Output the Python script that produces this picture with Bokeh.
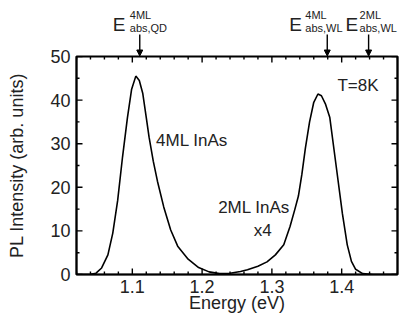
import numpy as np
from bokeh.plotting import figure
from bokeh.layouts import column
from bokeh.models import (Range1d, LinearAxis, Label, Arrow, NormalHead,
                          SingleIntervalTicker, CustomJSTickFormatter)
from bokeh.embed import file_html
from bokeh.resources import INLINE

# PL spectrum (single trace: 4ML InAs QD peak and 2ML InAs WL peak x4)
energy = [1.020, 1.040, 1.048, 1.056, 1.065, 1.072, 1.079, 1.086, 1.093, 1.099,
          1.105, 1.110, 1.115, 1.120, 1.124, 1.130, 1.136, 1.145, 1.155, 1.165,
          1.180, 1.195, 1.210, 1.225, 1.240, 1.255, 1.265, 1.280, 1.293, 1.305,
          1.317, 1.326, 1.333, 1.338, 1.343, 1.348, 1.354, 1.360, 1.366, 1.371,
          1.377, 1.383, 1.392, 1.401, 1.408, 1.414, 1.420, 1.430, 1.445, 1.480]
intensity = [0.0, 0.05, 0.3, 1.5, 4.5, 9.5, 17.0, 27.0, 36.0, 42.5,
             45.5, 44.5, 41.5, 36.0, 31.5, 26.0, 21.4, 15.5, 10.2, 6.5,
             3.5, 1.6, 0.6, 0.2, 0.3, 0.7, 1.1, 1.9, 2.9, 4.5,
             6.8, 11.0, 15.0, 18.0, 23.0, 29.0, 35.0, 39.5, 41.4, 41.0,
             39.0, 36.0, 25.0, 14.0, 6.8, 3.0, 1.2, 0.2, 0.0, 0.0]

# absorption energies marked by arrows above the frame
abs_energy = [1.1115, 1.3827, 1.4425]
abs_sup = ["4ML", "4ML", "2ML"]
abs_sub = ["abs,QD", "abs,WL", "abs,WL"]

# ticks
x_ticks = [1.1, 1.2, 1.3, 1.4]
y_ticks = [0, 10, 20, 30, 40, 50]
X0, X1 = 1.02, 1.48
Y0, Y1 = 0, 50
x_minor_step = 0.02
y_minor_step = 5

FONT = "Liberation Sans"
TXT = "#222222"
LW = 1.4

W = 400
TOP_H = 56
OVERLAP = 11
MAIN_H = 315 - TOP_H + OVERLAP
LEFT, RIGHT = 76, 3

# ---------------- main plot ----------------
p = figure(width=W, height=MAIN_H, output_backend="svg", toolbar_location=None,
           x_range=Range1d(X0, X1), y_range=Range1d(Y0, Y1),
           min_border_left=LEFT, min_border_right=RIGHT, min_border_top=OVERLAP,
           min_border_bottom=39,
           background_fill_color=None, border_fill_color=None,
           styles={"margin-top": "-%dpx" % OVERLAP})
p.outline_line_color = "black"
p.outline_line_width = 2.2
p.grid.visible = False

p.line(energy, intensity, line_color="black", line_width=1.6)

# inward ticks on all four sides (half of each dash is clipped away by the frame)
x_minor = [v for v in np.round(np.arange(X0, X1 + 1e-9, x_minor_step), 3)
           if min(abs(v - t) for t in x_ticks) > 1e-6]
y_minor = [v for v in np.arange(Y0, Y1 + 1e-9, y_minor_step) if v not in y_ticks]
for xs, size in ((x_ticks, 12), (x_minor, 6)):
    for yy in (Y0, Y1):
        p.scatter(xs, [yy] * len(xs), marker="dash", size=size, angle=np.pi / 2,
                  line_color="black", line_width=LW)
for ys, size in ((y_ticks, 12), (y_minor, 6)):
    for xx in (X0, X1):
        p.scatter([xx] * len(ys), ys, marker="dash", size=size, angle=0,
                  line_color="black", line_width=LW)

def style(ax, labels=True):
    ax.axis_line_color = "black"
    ax.axis_line_width = LW
    ax.major_tick_in = 0
    ax.major_tick_out = 0
    ax.minor_tick_in = 0
    ax.minor_tick_out = 0
    ax.major_label_text_font = FONT
    ax.major_label_text_color = TXT
    ax.axis_label_text_font = FONT
    ax.axis_label_text_color = TXT
    ax.axis_label_text_font_style = "normal"
    if not labels:
        ax.formatter = CustomJSTickFormatter(code="return '';")
        ax.major_label_text_font_size = "0px"
        ax.major_label_standoff = 0

xb = p.xaxis[0]
yl = p.yaxis[0]
xb.ticker = SingleIntervalTicker(interval=0.1, num_minor_ticks=5)
yl.ticker = SingleIntervalTicker(interval=10, num_minor_ticks=2)
style(xb)
style(yl)
xb.major_label_text_font_size = "18px"
xb.axis_label = "Energy (eV)"
xb.axis_label_text_font_size = "18px"
xb.major_label_standoff = 5
xb.axis_label_standoff = -3
yl.major_label_text_font_size = "18px"
yl.axis_label = "PL Intensity (arb. units)"
yl.axis_label_text_font_size = "18px"
yl.major_label_standoff = 6
yl.axis_label_standoff = 20

yr = LinearAxis(ticker=SingleIntervalTicker(interval=10, num_minor_ticks=2))
style(yr, labels=False)
p.add_layout(yr, "right")

# in-plot annotations
p.add_layout(Label(x=1.134, y=30.7, text="4ML InAs", text_font=FONT, text_font_size="17px",
                   text_color=TXT, text_baseline="middle", text_align="left"))
p.add_layout(Label(x=1.223, y=15.3, text="2ML InAs", text_font=FONT, text_font_size="17px",
                   text_color=TXT, text_baseline="middle", text_align="left"))
p.add_layout(Label(x=1.2867, y=10.2, text="x4", text_font=FONT, text_font_size="17px",
                   text_color=TXT, text_baseline="middle", text_align="center"))
p.add_layout(Label(x=1.394, y=43.3, text="T=8K", text_font=FONT, text_font_size="17px",
                   text_color=TXT, text_baseline="middle", text_align="left"))

# ---------------- strip above the frame: absorption arrows ----------------
frame_w = W - LEFT - RIGHT
top_x1 = X1 + RIGHT * (X1 - X0) / frame_w   # same x scale, frame reaching the right edge
pt = figure(width=W, height=TOP_H, output_backend="svg", toolbar_location=None,
            x_range=Range1d(X0, top_x1), y_range=Range1d(0, TOP_H),
            min_border_left=LEFT, min_border_right=0, min_border_top=0, min_border_bottom=0,
            x_axis_location=None, y_axis_location=None,
            background_fill_color=None, border_fill_color=None)
pt.outline_line_color = None
pt.grid.visible = False

e_dx = [-27, -38, -23]
s_dx = [-10, -22, -9]
for e, sup, sub, ed, sd in zip(abs_energy, abs_sup, abs_sub, e_dx, s_dx):
    pt.add_layout(Arrow(end=NormalHead(size=6, fill_color="black", line_color="black"),
                        x_start=e, y_start=22, x_end=e, y_end=0.5,
                        line_color="black", line_width=LW))
    pt.add_layout(Label(x=e, y=0, x_offset=ed, y_offset=32, text="E",
                        text_font=FONT, text_font_size="19px", text_color=TXT,
                        text_baseline="alphabetic", text_align="left"))
    pt.add_layout(Label(x=e, y=0, x_offset=sd, y_offset=42, text=sup,
                        text_font=FONT, text_font_size="11px", text_color=TXT,
                        text_baseline="alphabetic", text_align="left"))
    pt.add_layout(Label(x=e, y=0, x_offset=sd, y_offset=29, text=sub,
                        text_font=FONT, text_font_size="11px", text_color=TXT,
                        text_baseline="alphabetic", text_align="left"))

layout = column(pt, p, spacing=0)
open("out.html", "w").write(file_html(layout, INLINE))
